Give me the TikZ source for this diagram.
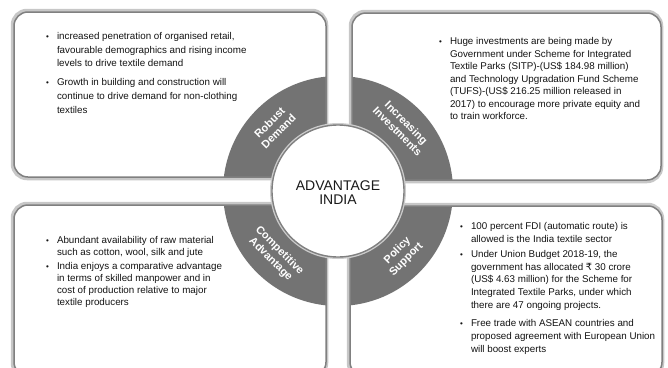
\documentclass[tikz,border=0pt]{standalone}
\usepackage{fontspec}
\setmainfont{Liberation Sans}
\newfontfamily\rupeefont{DejaVu Sans}
\usepackage{enumitem}
\setlist[itemize]{nosep,label={\footnotesize\textbullet},leftmargin=14pt,labelsep=8pt,labelwidth=6pt}

\begin{document}
\begin{tikzpicture}[x=1pt,y=-1pt,every node/.style={inner sep=0pt,outer sep=0pt},
  ringfill/.style={fill=black!55},
  rim/.style={draw=black!50,line width=1.5pt,rounded corners=14pt},
  halo/.style={draw=black!22,line width=4.5pt,rounded corners=14pt},
  segtext/.style={text=white,font=\fontsize{11}{12.5}\selectfont\bfseries,align=center},
  bullets/.style={anchor=north west,text=black!92}]
\useasboundingbox (0,0) rectangle (668,367);
\coordinate (ctr) at (338,191);
% four panels, each with its quarter of the ring
\foreach \xa/\ya/\xb/\yb in {14/12/326/177, 352/13/661/180, 14/205/326/376, 350/206/662/376}{
  \draw[halo] (\xa-1,\ya-1) rectangle (\xb,\yb+1);
  \fill[white,rounded corners=14pt] (\xa,\ya) rectangle (\xb,\yb);
  \begin{scope}
    \clip[rounded corners=14pt] (\xa,\ya) rectangle (\xb,\yb);
    \fill[ringfill] (ctr) circle [radius=115];
  \end{scope}
  \draw[rim] (\xa,\ya) rectangle (\xb,\yb);
}
\draw[black!20,line width=4pt] (ctr) circle [radius=66];
\filldraw[fill=white,draw=black!50,line width=1.4pt] (ctr) circle [radius=66];
\node (hub) at (338,193) [font=\fontsize{14}{14}\selectfont,align=center,text=black!90] {ADVANTAGE\\INDIA};
\node (robust) at (274,127) [segtext,rotate=45] {Robust\\Demand};
\node (invest) at (402,127) [segtext,rotate=-45] {Increasing\\Investments};
\node (compet) at (275,255) [segtext,rotate=-45] {Competitive\\Advantage};
\node (policy) at (402,255) [segtext,rotate=45] {Policy\\Support};
\node (demandtxt) at (43,32.3) [bullets,font=\fontsize{9.8}{13.7}\selectfont] {\begin{minipage}{240pt}
\begin{itemize}[itemsep=5.3pt]
\item increased penetration of organised retail,\\favourable demographics and rising income\\levels to drive textile demand
\item Growth in building and construction will\\continue to drive demand for non-clothing\\textiles
\end{itemize}\end{minipage}};
\node (investtxt) at (436,37.8) [bullets,font=\fontsize{9.8}{12.5}\selectfont] {\begin{minipage}{240pt}
\begin{itemize}
\item Huge investments are being made by\\Government under Scheme for Integrated\\Textile Parks (SITP)-(US\$ 184.98 million)\\and Technology Upgradation Fund Scheme\\(TUFS)-(US\$ 216.25 million released in\\2017) to encourage more private equity and\\to train workforce.
\end{itemize}\end{minipage}};
\node (compettxt) at (43,236) [bullets,font=\fontsize{9.8}{12.1}\selectfont] {\begin{minipage}{240pt}
\begin{itemize}[itemsep=2.3pt]
\item Abundant availability of raw material\\such as cotton, wool, silk and jute
\item India enjoys a comparative advantage\\in terms of skilled manpower and in\\cost of production relative to major\\textile producers
\end{itemize}\end{minipage}};
\node (policytxt) at (457,222.6) [bullets,font=\fontsize{9.8}{12.8}\selectfont] {\begin{minipage}{240pt}
\begin{itemize}[itemsep=1.9pt]
\item 100 percent FDI (automatic route) is\\allowed is the India textile sector
\item Under Union Budget 2018-19, the\\government has allocated {\rupeefont ₹} 30 crore\\(US\$ 4.63 million) for the Scheme for\\Integrated Textile Parks, under which\\there are 47 ongoing projects.
\vspace{3.6pt}
\item Free trade with ASEAN countries and\\proposed agreement with European Union\\will boost experts
\end{itemize}\end{minipage}};
\end{tikzpicture}
\end{document}
